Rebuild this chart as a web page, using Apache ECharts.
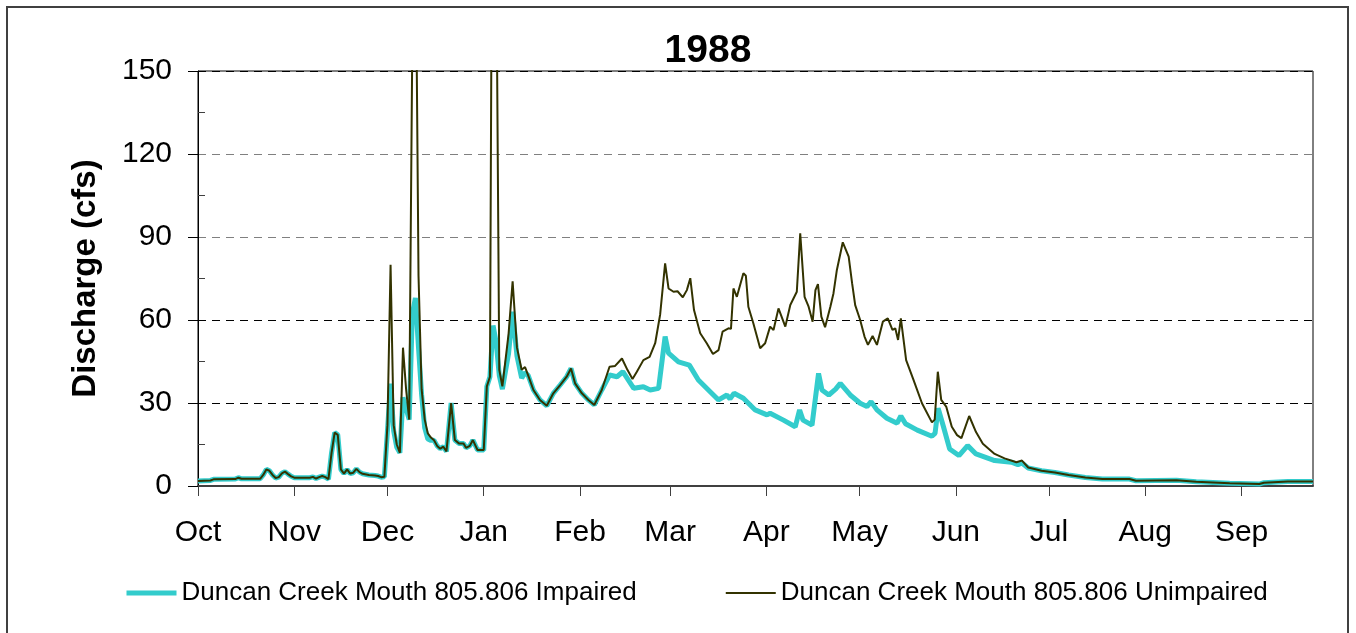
<!DOCTYPE html>
<html>
<head>
<meta charset="utf-8">
<title>1988</title>
<script src="https://cdn.jsdelivr.net/npm/echarts/dist/echarts.min.js"></script>
<style>
  html, body { margin: 0; padding: 0; background: #fff; }
  #main { width: 1356px; height: 633px; }
</style>
</head>
<body>
<div id="main"></div>
<script>
// water year Oct 1987 - Sep 1988, x = days since Oct 1
const monthNames = ['Oct', 'Nov', 'Dec', 'Jan', 'Feb', 'Mar', 'Apr', 'May', 'Jun', 'Jul', 'Aug', 'Sep'];
const monthStartDays = [0, 31, 61, 92, 123, 152, 183, 213, 244, 274, 305, 336];
const dayCount = 360;

const yMin = 0;
const yMax = 150;
const yStep = 30;

// [day, cfs]
const unimpairedPoints = [
  [0, 1.8], [4, 2.0], [5, 2.4], [12, 2.5], [13, 3.0], [14, 2.6], [20, 2.6], [21, 4.0], [22, 6.0], [23, 5.5],
  [24, 4.0], [25, 2.9], [26, 3.2], [27, 4.6], [28, 5.2], [29, 4.3], [30, 3.5], [31, 3.0], [36, 3.0], [37, 3.3],
  [38, 2.7], [39, 3.2], [40, 3.6], [41, 3.2], [42, 2.5], [43, 12], [44, 19.3], [45, 18.5], [46, 6], [47, 4.5],
  [48, 6.0], [49, 4.5], [50, 4.8], [51, 6.2], [52, 5.0], [53, 4.4], [55, 4.0], [57, 3.8], [58, 3.6], [59, 3.2],
  [60, 3.3], [61, 22], [62, 80], [63, 22], [64, 15], [65, 12], [66, 50], [67, 35], [68, 24], [69, 160],
  [70, 210], [71, 76], [72, 35], [73, 24], [74, 19], [75, 17.5], [76, 16.5], [77, 14.5], [78, 13.5], [79, 14.2],
  [80, 12.5], [81.5, 30], [82.7, 16.6], [84, 15.4], [85.5, 15.4], [86.3, 13.8], [87.5, 14.5], [88.5, 16.6], [90, 13], [92, 13],
  [93, 36], [94, 39.5], [95, 300], [96, 200], [97, 42], [98, 36], [100, 55], [101.3, 74], [102.7, 50], [104.2, 42],
  [105.3, 43], [106.3, 40], [108, 34.7], [110.1, 31.1], [112.3, 29], [114.4, 33.5], [116.6, 36.5], [118.7, 39.5], [120.1, 42.5], [121.4, 37.1],
  [123.6, 33.5], [125.7, 31.1], [127.6, 29.3], [130, 34.7], [132.5, 43.1], [134.3, 43.4], [136.5, 46.1], [138.3, 41.9], [139.9, 38.7], [141.3, 41.3],
  [143.4, 45.5], [145.4, 46.7], [147.2, 51.6], [148.8, 62], [150.4, 80.5], [151.5, 71.4], [153.1, 70.2], [154.4, 70.4], [156.1, 68.2], [157.4, 70.8],
  [158.5, 75.1], [159.7, 63.6], [161.7, 55.2], [163.8, 51.6], [165.8, 47.7], [167.6, 49.1], [168.9, 55.8], [170.8, 57], [171.6, 56.8], [172.4, 71.4],
  [173.5, 68.4], [175.6, 76.9], [176.4, 76], [177.2, 64.8], [178.8, 58.8], [181, 49.8], [182.6, 51.6], [184.2, 57.6], [185.3, 56.4], [186.9, 64.2],
  [189.1, 57.6], [190.7, 65.4], [192.8, 70.2], [193.9, 91.3], [195.3, 68.4], [196.6, 64.8], [197.9, 59.4], [198.8, 70.8], [199.6, 73], [200.7, 61.2],
  [201.9, 57.4], [203.6, 64.8], [204.6, 69.6], [205.7, 78.1], [207.6, 88.1], [209.5, 82.9], [210.6, 73.3], [211.6, 65.4], [213.2, 60], [214.6, 54],
  [215.7, 51], [217.2, 54.2], [218.6, 51], [220.5, 59.4], [222.1, 60.6], [223.6, 56.4], [224.5, 57], [225.4, 52.8], [226.3, 60.6], [228, 45.5],
  [230.4, 38.3], [233.1, 29.9], [236.3, 23], [237.2, 24], [238.2, 41.3], [239.3, 31.1], [240.9, 28.7], [242.7, 21.4], [244.4, 18.4], [245.8, 17.3],
  [248.3, 25.3], [250.5, 19.5], [252.7, 15.3], [256.5, 11.6], [259.7, 10], [263.5, 8.6], [265.3, 9.2], [267.3, 6.7], [271.6, 5.5], [275.9, 4.9],
  [280.3, 4.0], [285.7, 3.1], [291.2, 2.5], [299.9, 2.5], [302, 1.9], [315, 2.1], [321.4, 1.5], [332.2, 1.0], [341.7, 0.7], [343.2, 1.2],
  [350.9, 1.6], [359, 1.6]
];

const impairedPoints = [
  [0, 1.8], [4, 2.0], [5, 2.4], [12, 2.5], [13, 3.0], [14, 2.6], [20, 2.6], [21, 4.0], [22, 6.0], [23, 5.5],
  [24, 4.0], [25, 2.9], [26, 3.2], [27, 4.6], [28, 5.2], [29, 4.3], [30, 3.5], [31, 3.0], [36, 3.0], [37, 3.3],
  [38, 2.7], [39, 3.2], [40, 3.6], [41, 3.2], [42, 2.5], [43, 12], [44, 19.3], [45, 18.5], [46, 6], [47, 4.5],
  [48, 6.0], [49, 4.5], [50, 4.8], [51, 6.2], [52, 5.0], [53, 4.4], [55, 4.0], [57, 3.8], [58, 3.6], [59, 3.2],
  [60, 3.3], [61, 20], [62, 37], [63, 20], [64, 14], [65, 12], [66, 32], [67, 28], [68, 24], [69, 62],
  [70, 68], [71, 50], [72, 33], [73, 21], [74, 17], [75, 16.5], [76, 16.5], [77, 14.5], [78, 13.5], [79, 14.2],
  [80, 12.5], [81.5, 30], [82.7, 16.6], [84, 15.4], [85.5, 15.4], [86.3, 13.8], [87.5, 14.5], [88.5, 16.6], [90, 13], [92, 13],
  [93, 36], [94, 39.5], [95, 58], [96, 52], [97, 40], [98, 35], [100, 48], [101.3, 63], [102.7, 47], [104.2, 39],
  [105.3, 41], [106.3, 40], [108, 34.7], [110.1, 31.1], [112.3, 29], [114.4, 33.5], [116.6, 36.5], [118.7, 39.5], [120.1, 42.5], [121.4, 37.1],
  [123.6, 33.5], [125.7, 31.1], [127.6, 29.3], [130, 34.7], [132.5, 40.1], [134.9, 39.5], [136.8, 41.3], [140.3, 35.3], [143.4, 35.9], [145.6, 34.7],
  [148.3, 35.3], [150.4, 54], [151.5, 48], [154.7, 44.9], [158.2, 43.7], [161.1, 38.3], [164.9, 34.1], [167.6, 31.1], [170.3, 32.9], [171.3, 31.5],
  [172.6, 33.5], [175.6, 31.7], [179.4, 27.5], [183.2, 25.7], [184.2, 26.3], [188.5, 23.8], [192.3, 21.4], [193.7, 27.5], [194.8, 23.8], [197.7, 22],
  [199.8, 40.7], [200.9, 34.7], [203.1, 32.9], [205.3, 35], [206.8, 37.1], [210, 32.9], [213.2, 29.9], [215.4, 28.7], [216.7, 30.5], [218.6, 27.5],
  [221.8, 24.5], [225.1, 22.7], [226.3, 25.3], [227.8, 22.5], [231.6, 20.2], [236.3, 18], [237.3, 19], [238.3, 28.1], [240, 21.5], [242, 13.4],
  [245, 11], [247.8, 14.6], [250.5, 11.6], [256.5, 9.2], [261.9, 8.6], [264, 7.7], [265.3, 8.3], [267.3, 6.5], [271.6, 5.5], [275.9, 4.9],
  [280.3, 4.0], [285.7, 3.1], [291.2, 2.5], [299.9, 2.5], [302, 1.9], [315, 2.1], [321.4, 1.5], [332.2, 1.0], [341.7, 0.7], [343.2, 1.2],
  [350.9, 1.6], [359, 1.6]
];

const seriesNames = ['Duncan Creek Mouth 805.806 Impaired', 'Duncan Creek Mouth 805.806 Unimpaired'];
const seriesColors = ['#33CCCC', '#333300'];
const seriesWidths = [5, 2];

// category axis only used for the month ticks/labels
const dayLabels = [];
for (let d = 0; d < dayCount; d++) {
  const m = monthStartDays.indexOf(d);
  dayLabels.push(m >= 0 ? monthNames[m] : '');
}
const isMonthStart = (idx) => monthStartDays.indexOf(idx) >= 0;

const font = '"Liberation Sans", Arial, sans-serif';
const chart = echarts.init(document.getElementById('main'), null, { renderer: 'canvas' });

chart.setOption({
  animation: false,
  backgroundColor: '#fff',
  textStyle: { fontFamily: font },
  title: {
    text: '1988',
    left: 708,
    top: 32,
    textAlign: 'center',
    padding: 0,
    textStyle: { fontSize: 39, fontWeight: 'bold', color: '#000', fontFamily: font }
  },
  graphic: [{
    type: 'rect',
    shape: { x: 7, y: 7, width: 1341, height: 700 },
    style: { fill: null, stroke: '#404040', lineWidth: 2 },
    silent: true
  }],
  legend: {
    left: 124,
    top: 580,
    itemWidth: 50,
    itemHeight: 14,
    itemGap: 88,
    padding: 0,
    itemStyle: { opacity: 0 },
    textStyle: { fontSize: 26, color: '#000', fontFamily: font },
    data: seriesNames.map((name, i) => ({
      name: name,
      lineStyle: { color: seriesColors[i], width: seriesWidths[i] }
    }))
  },
  grid: {
    left: 198,
    top: 71,
    right: 43,
    bottom: 147,
    show: true,
    borderColor: '#000',
    borderWidth: 1,
    outerBoundsMode: 'none'
  },
  xAxis: [{
    type: 'category',
    data: dayLabels,
    boundaryGap: false,
    axisLine: { lineStyle: { color: '#404040', width: 2 } },
    axisTick: { interval: isMonthStart, length: 10, lineStyle: { color: '#404040', width: 1 } },
    axisLabel: { interval: isMonthStart, margin: 32, fontSize: 30, color: '#000', fontFamily: font },
    splitLine: { show: false }
  }, {
    type: 'value',
    min: 0,
    max: dayCount - 1,
    show: false
  }],
  yAxis: {
    type: 'value',
    min: yMin,
    max: yMax,
    interval: yStep,
    name: 'Discharge (cfs)',
    nameLocation: 'middle',
    nameGap: 96,
    nameTextStyle: { fontSize: 33, fontWeight: 'bold', color: '#000', fontFamily: font },
    axisLine: { show: true, lineStyle: { color: '#000', width: 1 } },
    axisTick: { show: true, length: 10, lineStyle: { color: '#000' } },
    minorTick: { show: true, splitNumber: 2, length: -7, lineStyle: { color: '#404040' } },
    axisLabel: { margin: 26, fontSize: 30, color: '#000', fontFamily: font },
    splitLine: {
      show: true,
      lineStyle: {
        color: ['#000', '#000', '#000', '#808080', '#808080', '#000'],
        type: [8, 6],
        width: 1
      }
    }
  },
  series: [{
    name: seriesNames[0],
    type: 'line',
    xAxisIndex: 1,
    data: impairedPoints,
    symbol: 'none',
    showSymbol: false,
    clip: true,
    z: 2,
    itemStyle: { color: seriesColors[0] },
    lineStyle: { color: seriesColors[0], width: seriesWidths[0] }
  }, {
    name: seriesNames[1],
    type: 'line',
    xAxisIndex: 1,
    data: unimpairedPoints,
    symbol: 'none',
    showSymbol: false,
    clip: true,
    z: 3,
    itemStyle: { color: seriesColors[1] },
    lineStyle: { color: seriesColors[1], width: seriesWidths[1] }
  }]
});
</script>
</body>
</html>
